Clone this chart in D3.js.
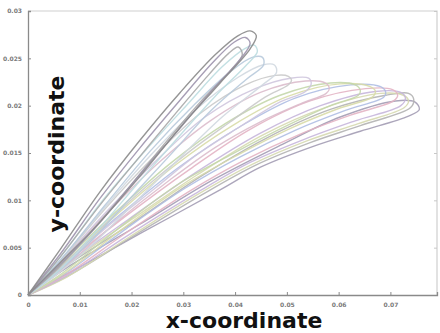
<!DOCTYPE html>
<html>
<head>
<meta charset="utf-8">
<script src="https://cdn.jsdelivr.net/npm/d3@7"></script>
<style>
  body { margin: 0; background: #fff; }
  svg { display: block; }
</style>
</head>
<body>
<div id="chart"></div>
<script>
// tick values
const xTicks = [0, 0.01, 0.02, 0.03, 0.04, 0.05, 0.06, 0.07];
const yTicks = [0, 0.005, 0.01, 0.015, 0.02, 0.025, 0.03];

// each loop: [x, y] points, out along the upper branch and back to the origin
const loopA1 = [[0,0],[.0062,.0048],[.0139,.0109],[.0217,.0164],[.0294,.0214],[.0362,.0254],[.0406,.0274],[.0429,.0279],[.0441,.0274],[.0429,.0260],[.0371,.0224],[.0294,.0177],[.0217,.0126],[.0139,.0077],[.0062,.0034],[0,0]];
const loopA2 = [[0,0],[.0062,.0043],[.0139,.0102],[.0217,.0156],[.0294,.0206],[.0356,.0245],[.0398,.0267],[.0420,.0272],[.0429,.0266],[.0410,.0249],[.0352,.0214],[.0279,.0167],[.0203,.0119],[.0130,.0071],[.0058,.0030],[0,0]];
const loopA3 = [[0,0],[.0062,.0040],[.0139,.0095],[.0217,.0147],[.0290,.0195],[.0348,.0232],[.0387,.0255],[.0406,.0262],[.0414,.0254],[.0391,.0237],[.0333,.0204],[.0261,.0158],[.0188,.0109],[.0116,.0063],[.0052,.0025],[0,0]];
const loopC4 = [[0,0],[.0064,.0041],[.0143,.0099],[.0226,.0152],[.0309,.0202],[.0375,.0241],[.0418,.0260],[.0437,.0264],[.0443,.0257],[.0422,.0243],[.0360,.0209],[.0286,.0164],[.0209,.0116],[.0132,.0067],[.0056,.0024],[0,0]];
const loopA4 = [[0,0],[.0066,.0039],[.0149,.0095],[.0236,.0152],[.0323,.0202],[.0391,.0236],[.0433,.0251],[.0453,.0251],[.0455,.0243],[.0422,.0228],[.0352,.0194],[.0275,.0148],[.0197,.0102],[.0120,.0056],[.0052,.0022],[0,0]];
const loopC1 = [[0,0],[.0066,.0039],[.0149,.0093],[.0236,.0147],[.0329,.0198],[.0406,.0230],[.0453,.0243],[.0476,.0243],[.0480,.0235],[.0453,.0222],[.0375,.0188],[.0290,.0143],[.0207,.0098],[.0124,.0053],[.0054,.0021],[0,0]];
const loopB1 = [[0,0],[.0066,.0038],[.0149,.0091],[.0236,.0142],[.0333,.0192],[.0420,.0222],[.0478,.0232],[.0503,.0231],[.0509,.0227],[.0503,.0222],[.0458,.0209],[.0391,.0183],[.0313,.0152],[.0236,.0118],[.0149,.0075],[.0058,.0027],[0,0]];
const loopC2 = [[0,0],[.0066,.0037],[.0155,.0090],[.0246,.0141],[.0342,.0188],[.0439,.0218],[.0507,.0229],[.0542,.0229],[.0547,.0223],[.0536,.0215],[.0487,.0204],[.0410,.0178],[.0323,.0147],[.0246,.0113],[.0155,.0073],[.0060,.0027],[0,0]];
const loopB2 = [[0,0],[.0066,.0037],[.0159,.0090],[.0255,.0141],[.0352,.0184],[.0449,.0214],[.0536,.0226],[.0574,.0224],[.0582,.0218],[.0576,.0213],[.0526,.0202],[.0449,.0183],[.0362,.0156],[.0275,.0122],[.0164,.0074],[.0062,.0025],[0,0]];
const loopB3 = [[0,0],[.0070,.0036],[.0168,.0087],[.0275,.0139],[.0381,.0181],[.0487,.0211],[.0584,.0224],[.0632,.0222],[.0642,.0216],[.0638,.0211],[.0584,.0200],[.0497,.0178],[.0395,.0149],[.0290,.0117],[.0174,.0070],[.0066,.0023],[0,0]];
const loopC3 = [[0,0],[.0072,.0035],[.0174,.0086],[.0284,.0137],[.0395,.0179],[.0503,.0210],[.0603,.0223],[.0661,.0220],[.0671,.0215],[.0665,.0209],[.0600,.0197],[.0507,.0176],[.0402,.0147],[.0296,.0114],[.0178,.0068],[.0068,.0022],[0,0]];
const loopB4 = [[0,0],[.0072,.0035],[.0178,.0085],[.0294,.0136],[.0410,.0178],[.0516,.0208],[.0623,.0222],[.0681,.0220],[.0691,.0214],[.0687,.0209],[.0613,.0195],[.0516,.0174],[.0410,.0146],[.0304,.0113],[.0182,.0067],[.0070,.0022],[0,0]];
const loopB5 = [[0,0],[.0074,.0034],[.0188,.0083],[.0313,.0133],[.0429,.0175],[.0545,.0205],[.0652,.0218],[.0704,.0217],[.0714,.0211],[.0706,.0205],[.0623,.0190],[.0526,.0170],[.0420,.0143],[.0313,.0110],[.0188,.0065],[.0072,.0021],[0,0]];
const loopB6 = [[0,0],[.0075,.0033],[.0197,.0081],[.0323,.0129],[.0449,.0171],[.0565,.0200],[.0671,.0215],[.0720,.0214],[.0729,.0208],[.0720,.0200],[.0632,.0184],[.0536,.0165],[.0429,.0140],[.0323,.0107],[.0193,.0063],[.0073,.0020],[0,0]];
const loopC5 = [[0,0],[.0075,.0032],[.0201,.0080],[.0327,.0127],[.0453,.0169],[.0574,.0198],[.0681,.0213],[.0725,.0211],[.0735,.0205],[.0727,.0198],[.0638,.0181],[.0540,.0163],[.0433,.0138],[.0327,.0106],[.0195,.0061],[.0075,.0019],[0,0]];
const loopB7 = [[0,0],[.0077,.0032],[.0207,.0078],[.0333,.0125],[.0458,.0165],[.0584,.0196],[.0691,.0211],[.0735,.0213],[.0745,.0207],[.0739,.0198],[.0642,.0179],[.0545,.0161],[.0439,.0137],[.0333,.0105],[.0197,.0060],[.0077,.0020],[0,0]];
const loopB8 = [[0,0],[.0081,.0031],[.0217,.0075],[.0352,.0120],[.0487,.0158],[.0603,.0188],[.0710,.0205],[.0747,.0204],[.0756,.0196],[.0735,.0189],[.0642,.0173],[.0551,.0157],[.0449,.0135],[.0371,.0111],[.0217,.0065],[.0081,.0024],[0,0]];

const loops = [loopB8, loopB7, loopC5, loopB6, loopB5, loopB4, loopC3, loopB3, loopB2, loopC2, loopB1, loopC1, loopA4, loopC4, loopA3, loopA2, loopA1];
const loopColors = ["#a39cb4", "#b3b3b3", "#d6d9b0", "#c6b6db", "#e3b4c4", "#afbee3", "#d8dca8", "#c4d7ab", "#dcbccc", "#cfc6de", "#cacaca", "#d0d8e0", "#b8cadb", "#bcdde0", "#a9a9a9", "#9d93ad", "#8a8a8a"];

const width = 440, height = 333;
const margin = {left: 28, right: 437, top: 11, bottom: 295};

const svg = d3.select("#chart").append("svg")
  .attr("width", width)
  .attr("height", height);

const defs = svg.append("defs");
defs.append("filter")
  .attr("id", "soft")
  .append("feGaussianBlur")
  .attr("stdDeviation", 0.45);

const x = d3.scaleLinear().domain([0, 0.079]).range([margin.left, margin.right]);
const y = d3.scaleLinear().domain([0, 0.03]).range([margin.bottom, margin.top]);

// frame: light top and right edges
svg.append("path")
  .attr("d", `M${margin.left},${margin.top}H${margin.right}V${margin.bottom}`)
  .attr("fill", "none")
  .attr("stroke", "#cfcfcf")
  .attr("stroke-width", 1.2);

// inward ticks on the right edge
svg.append("g")
  .attr("transform", `translate(${margin.right},0)`)
  .call(d3.axisRight(y).tickValues(yTicks).tickSize(-3).tickFormat(""))
  .call(g => g.select(".domain").remove())
  .call(g => g.selectAll("line").attr("stroke", "#c8c8c8"));

const line = d3.line()
  .x(d => x(d[0]))
  .y(d => y(d[1]))
  .curve(d3.curveCatmullRom.alpha(0.5));

svg.append("g")
  .attr("filter", "url(#soft)")
  .selectAll("path")
  .data(loops)
  .join("path")
  .attr("d", line)
  .attr("fill", "none")
  .attr("stroke", (d, i) => loopColors[i])
  .attr("stroke-width", 1.4)
  .attr("stroke-opacity", 0.9);

const fmt = d => d === 0 ? "0" : d3.format("~g")(d);

const xAxis = svg.append("g")
  .attr("transform", `translate(0,${margin.bottom})`)
  .call(d3.axisBottom(x).tickValues(xTicks).tickSize(-3).tickPadding(8).tickFormat(fmt));

const yAxis = svg.append("g")
  .attr("transform", `translate(${margin.left},0)`)
  .call(d3.axisLeft(y).tickValues(yTicks).tickSize(-3).tickPadding(6).tickFormat(fmt));

[xAxis, yAxis].forEach(g => {
  g.select(".domain").attr("stroke", "#8a8a8a").attr("stroke-width", 1.3);
  g.selectAll(".tick line").attr("stroke", "#8a8a8a");
  g.selectAll(".tick text")
    .attr("fill", "#7a7a7a")
    .style("font", "bold 6px 'DejaVu Sans', sans-serif");
});

svg.append("text")
  .attr("x", 244)
  .attr("y", 328)
  .attr("text-anchor", "middle")
  .style("font", "bold 22px 'DejaVu Sans', sans-serif")
  .attr("fill", "#111")
  .text("x-coordinate");

svg.append("text")
  .attr("transform", "translate(64,154) rotate(-90)")
  .attr("text-anchor", "middle")
  .style("font", "bold 22px 'DejaVu Sans', sans-serif")
  .attr("fill", "#111")
  .text("y-coordinate");
</script>
</body>
</html>
